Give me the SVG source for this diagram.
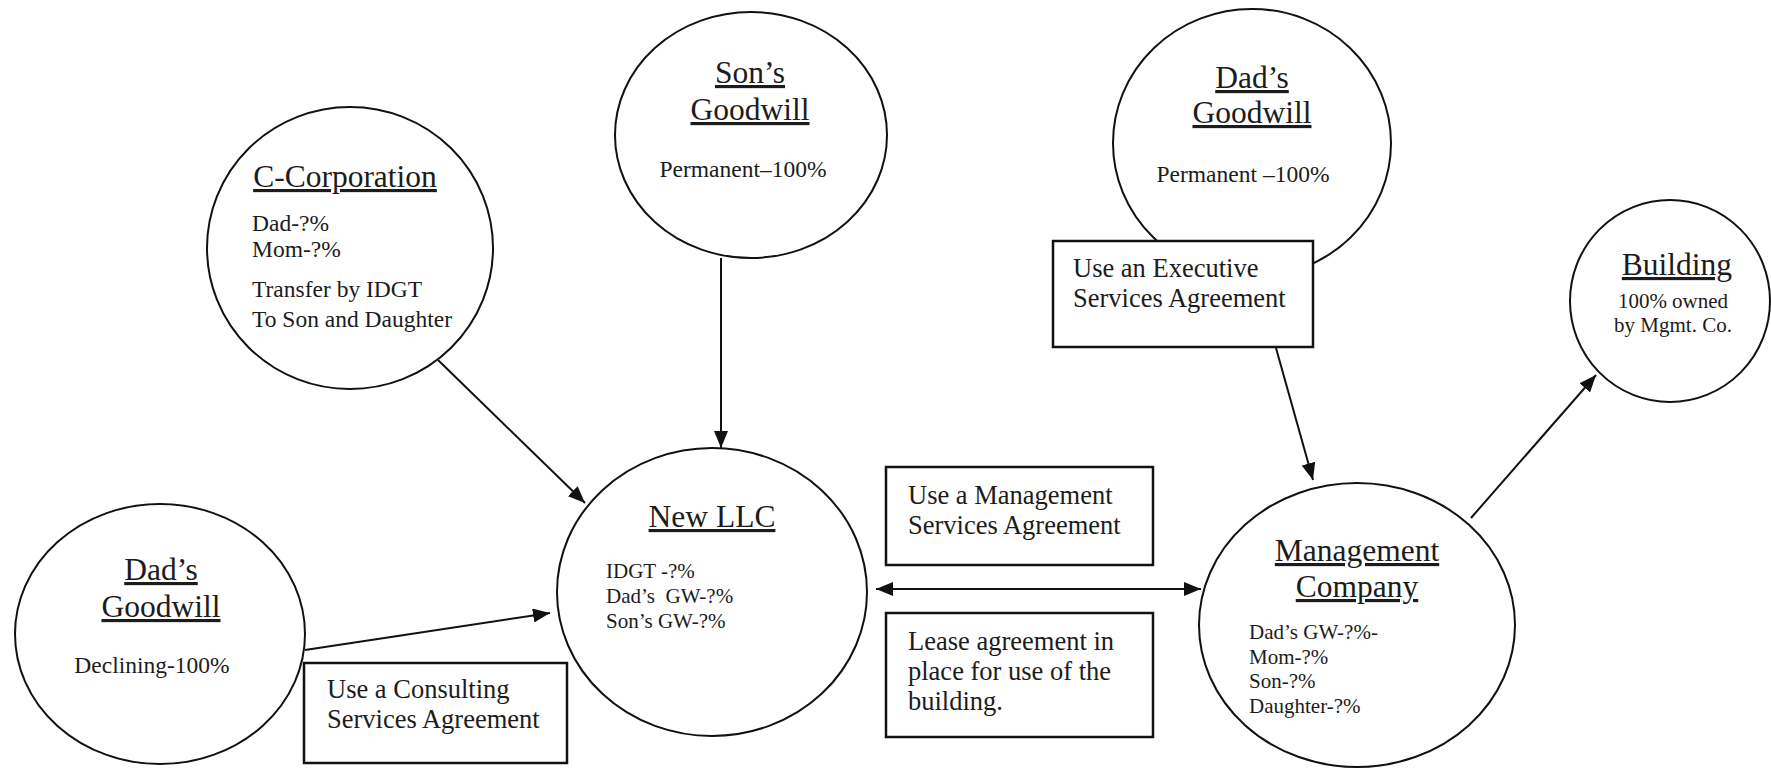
<svg xmlns="http://www.w3.org/2000/svg" width="1771" height="769" viewBox="0 0 1771 769">
<style>
  .node { fill: #ffffff; stroke: #111111; stroke-width: 2; }
  .box { fill: #ffffff; stroke: #111111; stroke-width: 2.5; }
  .conn { stroke: #111111; stroke-width: 2; fill: none; }
  text { font-family: "Liberation Serif", "Times New Roman", serif; fill: #1c1c1c; }
  .title { font-size: 31.5px; text-anchor: middle; text-decoration: underline; }
  .body { font-size: 23.5px; }
  .small { font-size: 21px; }
  .boxtxt { font-size: 26.5px; }
  .mid { text-anchor: middle; }
</style>
<defs>
  <marker id="arrow" viewBox="0 0 17 14" refX="17" refY="7" markerWidth="17" markerHeight="14" markerUnits="userSpaceOnUse" orient="auto-start-reverse">
    <path d="M0,0 L17,7 L0,14 z" fill="#111111"/>
  </marker>
</defs>

<g id="connectors">
  <line class="conn" x1="438" y1="360" x2="585" y2="503" marker-end="url(#arrow)"/>
  <line class="conn" x1="721" y1="258" x2="721" y2="448" marker-end="url(#arrow)"/>
  <line class="conn" x1="305" y1="650" x2="550" y2="613" marker-end="url(#arrow)"/>
  <line class="conn" x1="876" y1="589" x2="1201" y2="589" marker-start="url(#arrow)" marker-end="url(#arrow)"/>
  <line class="conn" x1="1276" y1="348" x2="1313" y2="480" marker-end="url(#arrow)"/>
  <line class="conn" x1="1471" y1="518" x2="1596" y2="375" marker-end="url(#arrow)"/>
</g>

<g id="c-corporation">
  <ellipse class="node" cx="350" cy="248" rx="143" ry="141"/>
  <text class="title" x="345" y="187">C-Corporation</text>
  <text class="body" x="252" y="231">Dad-?%</text>
  <text class="body" x="252" y="257">Mom-?%</text>
  <text class="body" x="252" y="297">Transfer by IDGT</text>
  <text class="body" x="252" y="327">To Son and Daughter</text>
</g>

<g id="sons-goodwill">
  <ellipse class="node" cx="751" cy="135" rx="136" ry="123"/>
  <text class="title" x="750" y="83">Son’s</text>
  <text class="title" x="750" y="120">Goodwill</text>
  <text class="body mid" x="743" y="177">Permanent–100%</text>
</g>

<g id="dads-goodwill-top">
  <ellipse class="node" cx="1252" cy="143" rx="139" ry="134"/>
  <text class="title" x="1252" y="88">Dad’s</text>
  <text class="title" x="1252" y="123">Goodwill</text>
  <text class="body mid" x="1243" y="182">Permanent –100%</text>
</g>

<g id="executive-box">
  <rect class="box" x="1053" y="241" width="260" height="106"/>
  <text class="boxtxt" x="1073" y="277">Use an Executive</text>
  <text class="boxtxt" x="1073" y="307">Services Agreement</text>
</g>

<g id="building">
  <ellipse class="node" cx="1670" cy="301" rx="100" ry="101"/>
  <text class="title" x="1677" y="275">Building</text>
  <text class="small mid" x="1673" y="308">100% owned</text>
  <text class="small mid" x="1673" y="332">by Mgmt. Co.</text>
</g>

<g id="dads-goodwill-left">
  <ellipse class="node" cx="160" cy="634" rx="145" ry="130"/>
  <text class="title" x="161" y="580">Dad’s</text>
  <text class="title" x="161" y="617">Goodwill</text>
  <text class="body mid" x="152" y="673">Declining-100%</text>
</g>

<g id="consulting-box">
  <rect class="box" x="304" y="663" width="263" height="100"/>
  <text class="boxtxt" x="327" y="698">Use a Consulting</text>
  <text class="boxtxt" x="327" y="728">Services Agreement</text>
</g>

<g id="new-llc">
  <ellipse class="node" cx="712" cy="592" rx="155" ry="144"/>
  <text class="title" x="712" y="527">New LLC</text>
  <text class="small" x="606" y="578">IDGT -?%</text>
  <text class="small" x="606" y="603" xml:space="preserve">Dad’s  GW-?%</text>
  <text class="small" x="606" y="628">Son’s GW-?%</text>
</g>

<g id="management-box">
  <rect class="box" x="886" y="467" width="267" height="98"/>
  <text class="boxtxt" x="908" y="504">Use a Management</text>
  <text class="boxtxt" x="908" y="534">Services Agreement</text>
</g>

<g id="lease-box">
  <rect class="box" x="886" y="613" width="267" height="124"/>
  <text class="boxtxt" x="908" y="650">Lease agreement in</text>
  <text class="boxtxt" x="908" y="680">place for use of the</text>
  <text class="boxtxt" x="908" y="710">building.</text>
</g>

<g id="management-company">
  <ellipse class="node" cx="1357" cy="625" rx="158" ry="142"/>
  <text class="title" x="1357" y="561">Management</text>
  <text class="title" x="1357" y="597">Company</text>
  <text class="small" x="1249" y="639">Dad’s GW-?%-</text>
  <text class="small" x="1249" y="664">Mom-?%</text>
  <text class="small" x="1249" y="688">Son-?%</text>
  <text class="small" x="1249" y="713">Daughter-?%</text>
</g>
</svg>
